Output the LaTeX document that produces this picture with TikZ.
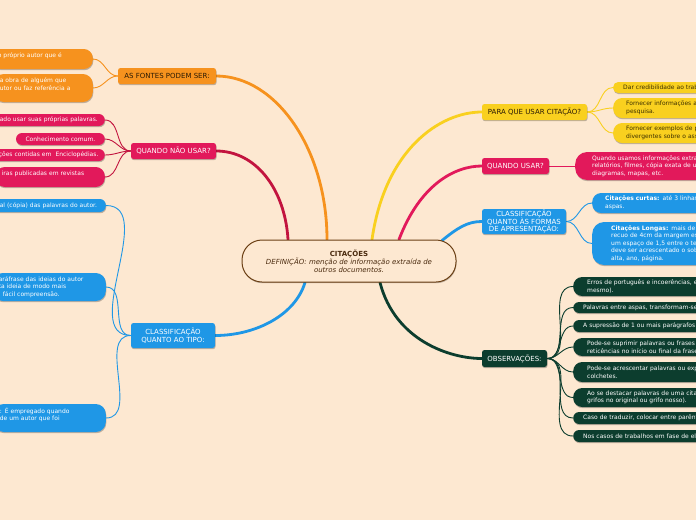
\documentclass[tikz,border=0pt]{standalone}
\usepackage{fontspec}
\setmainfont{DejaVu Sans}[ItalicFont={DejaVu Sans Oblique},BoldFont={DejaVu Sans Bold},BoldItalicFont={DejaVu Sans Bold Oblique}]
\usetikzlibrary{shadows}
\pgfdeclarelayer{back}
\pgfdeclarelayer{edges}
\pgfsetlayers{back,edges,main}
\definecolor{bgc}{HTML}{FDE8D1}
\definecolor{corange}{HTML}{F6921E}
\definecolor{cpink}{HTML}{E2195B}
\definecolor{ccrim}{HTML}{C2143F}
\definecolor{cblue}{HTML}{1F97E6}
\definecolor{cyellow}{HTML}{F9D01F}
\definecolor{cgreen}{HTML}{0C3D2E}
\definecolor{brd}{HTML}{6B3F14}
\definecolor{ctext}{HTML}{4A2A0E}
\definecolor{darktxt}{HTML}{2B1B05}
\definecolor{ytxt}{HTML}{3D3000}
\newcommand\fs{\fontsize{6}{7.6}\selectfont}
\newcommand\fb{\fontsize{7}{7.9}\selectfont}
\begin{document}
\begin{tikzpicture}[x=1pt,y=-1pt,
  shd/.style={drop shadow={shadow xshift=0.5pt,shadow yshift=-1.2pt,opacity=0.25,fill=black}},
  br/.style={rounded corners=2.5pt, inner sep=0pt, align=center, font=\fb, shd},
  lb/.style={rounded corners=#1, anchor=east, align=left, font=\fs, inner xsep=6pt, inner ysep=0pt, shd},
  lb/.default=6pt,
  rb/.style={rounded corners=#1, anchor=west, align=left, font=\fs, inner ysep=0pt, text width=220pt, shd},
  rb/.default=6pt,
  main/.style={line width=2.8pt, line cap=round},
  sub/.style={line width=0.9pt}]
\useasboundingbox (0,0) rectangle (696,520);
\begin{pgfonlayer}{back}
\fill[bgc] (0,0) rectangle (696,520);
\end{pgfonlayer}

% central node
\node[draw=brd, line width=1pt, fill=bgc, rounded corners=20pt, minimum width=214pt, minimum height=42pt, align=center, font=\fb, text=ctext, shd] (c) at (349,261)
  {\textbf{CITAÇÕES}\\\textit{DEFINIÇÃO: menção de informação extraída de}\\\textit{outros documentos.}};

% left branches
\node[br, fill=corange, text=darktxt, minimum width=98pt, minimum height=16pt] (fo) at (167,76) {AS FONTES PODEM SER:};
\node[br, fill=cpink, text=white, minimum width=85pt, minimum height=16pt] (qn) at (173.5,151) {QUANDO NÃO USAR?};
\node[br, fill=cblue, text=white, minimum width=84pt, minimum height=25pt] (ct) at (173,335.5) {CLASSIFICAÇÃO\\QUANTO AO TIPO:};

\node[lb=9pt, fill=corange, text=white, text width=89pt, minimum height=20pt] (o1) at (93,59) {o próprio autor que é\\\mbox{}};
\node[lb=10pt, fill=corange, text=white, text width=87pt, minimum height=28pt] (o2) at (93,88) {a obra de alguém que\\utor ou faz referência a\\\mbox{}};

\node[lb, fill=cpink, text=white, text width=99pt, minimum height=12pt] (p1) at (105,120) {ado usar suas próprias palavras.};
\node[lb, fill=cpink, text=white, inner xsep=9.5pt, minimum height=12pt] (p2) at (105,139) {Conhecimento comum.};
\node[lb, fill=cpink, text=white, text width=100pt, minimum height=12pt] (p3) at (105,155) {ções contidas em~ Enciclopédias.};
\node[lb=9pt, fill=cpink, text=white, text width=97pt, minimum height=20pt] (p4) at (105,177) {iras publicadas em revistas\\\mbox{}};

\node[lb, fill=cblue, text=white, text width=100pt, minimum height=13pt] (b1) at (106,205.5) {al (cópia) das palavras do autor.};
\node[lb=10pt, fill=cblue, text=white, text width=101pt, minimum height=28pt] (b2) at (106,287) {aráfrase das ideias do autor\\ta ideia de modo mais\\\hspace*{4pt}fácil compreensão.};
\node[lb=10pt, fill=cblue, text=white, text width=100pt, minimum height=28pt] (b3) at (106,418) {: É empregado quando\\de um autor que foi\\\mbox{}};

% right branches
\node[br, fill=cyellow, text=darktxt, minimum width=105pt, minimum height=16pt] (py) at (534.5,112) {PARA QUE USAR CITAÇÃO?};
\node[rb=5pt, fill=cyellow, text=ytxt, inner xsep=10pt, minimum height=11pt] (y1) at (613,87.5) {Dar credibilidade ao trab};
\node[rb=9pt, fill=cyellow, text=ytxt, inner xsep=13pt, minimum height=20pt] (y2) at (613,108) {Fornecer informações a\\pesquisa.};
\node[rb=9pt, fill=cyellow, text=ytxt, inner xsep=13pt, minimum height=20pt] (y3) at (613,133) {Fornecer exemplos de p\\divergentes sobre o ass};

\node[br, fill=cpink, text=white, minimum width=67pt, minimum height=16pt] (qu) at (515.5,166) {QUANDO USAR?};
\node[rb=12pt, fill=cpink, text=white, inner xsep=17pt, minimum height=28pt] (qu1) at (575,166) {Quando usamos informações extra\\relatórios, filmes, cópia exata de u\\diagramas, mapas, etc.};

\node[br, fill=cblue, text=white, minimum width=84pt, minimum height=25pt] (cf) at (524,221.5) {CLASSIFICAÇÃO\\QUANTO ÀS FORMAS\\DE APRESENTAÇÃO:};
\node[rb=9pt, fill=cblue, text=white, inner xsep=13pt, minimum height=20pt] (cf1) at (592,203) {\textbf{Citações curtas:} até 3 linhas\\aspas.};
\node[rb=12pt, fill=cblue, text=white, inner xsep=19pt, minimum height=43pt] (cf2) at (592,243.5) {\textbf{Citações Longas:} mais de 3\\recuo de 4cm da margem es\\um espaço de 1,5 entre o te\\deve ser acrescentado o sob\\alta, ano, página.};

\node[br, fill=cgreen, text=white, minimum width=65pt, minimum height=17pt] (ob) at (514.5,358.5) {OBSERVAÇÕES:};
\node[rb=9pt, fill=cgreen, text=white, inner xsep=14pt, minimum height=19pt] (g1) at (573,286.5) {Erros de português e incoerências, e\\mesmo).};
\node[rb, fill=cgreen, text=white, inner xsep=10pt, minimum height=11pt] (g2) at (573,307.5) {Palavras entre aspas, transformam-se};
\node[rb, fill=cgreen, text=white, inner xsep=10pt, minimum height=12pt] (g3) at (573,326) {A supressão de 1 ou mais parágrafos};
\node[rb=9pt, fill=cgreen, text=white, inner xsep=14pt, minimum height=18pt] (g4) at (573,347) {Pode-se suprimir palavras ou frases\\reticências no início ou final da frase};
\node[rb=9pt, fill=cgreen, text=white, inner xsep=14pt, minimum height=20pt] (g5) at (573,372) {Pode-se acrescentar palavras ou exp\\colchetes.};
\node[rb=9pt, fill=cgreen, text=white, inner xsep=14pt, minimum height=19pt] (g6) at (573,397.5) {Ao se destacar palavras de uma cita\\grifos no original ou grifo nosso).};
\node[rb, fill=cgreen, text=white, inner xsep=10pt, minimum height=12pt] (g7) at (573,418) {Caso de traduzir, colocar entre parênt};
\node[rb, fill=cgreen, text=white, inner xsep=10pt, minimum height=12pt] (g8) at (573,436) {Nos casos de trabalhos em fase de ela};

\begin{pgfonlayer}{edges}
% main connectors
\draw[main, corange] ([xshift=-22pt]c.north) .. controls +(0,-90) and +(60,0) .. (fo.east);
\draw[main, ccrim] ([xshift=-61pt]c.north) .. controls +(-3,-50) and +(40,0) .. (qn.east);
\draw[main, cblue] ([xshift=-44pt]c.south) .. controls +(-10,33) and +(40,0) .. (ct.east);
\draw[main, cyellow] ([xshift=23pt]c.north) .. controls +(13,-90) and +(-42,0) .. (py.west);
\draw[main, cpink] ([xshift=50pt]c.north) .. controls +(21,-55) and +(-27,0) .. (qu.west);
\draw[main, cblue] ([xshift=93pt,yshift=-1pt]c.north) .. controls +(16,-13) and +(-14,0) .. (cf.west);
\draw[main, cgreen] ([xshift=31pt]c.south) .. controls +(15,58) and +(-32,0) .. (ob.west);
% child connectors
\foreach \n in {o1,o2} \draw[sub, corange] (fo.west) to[out=180,in=0] (\n.east);
\foreach \n in {p1,p2,p3,p4} \draw[sub, ccrim] (qn.west) to[out=180,in=0] (\n.east);
\foreach \n in {b1,b2,b3} \draw[sub, cblue] (ct.west) to[out=180,in=0] (\n.east);
\foreach \n in {y1,y2,y3} \draw[sub, cyellow] (py.east) to[out=0,in=180] (\n.west);
\draw[sub, cpink] (qu.east) -- (qu1.west);
\foreach \n in {cf1,cf2} \draw[sub, cblue] (cf.east) to[out=0,in=180] (\n.west);
\foreach \n in {g1,g2,g3,g4,g5,g6,g7,g8} \draw[sub, cgreen] (ob.east) to[out=0,in=180] (\n.west);
\end{pgfonlayer}
\end{tikzpicture}
\end{document}
